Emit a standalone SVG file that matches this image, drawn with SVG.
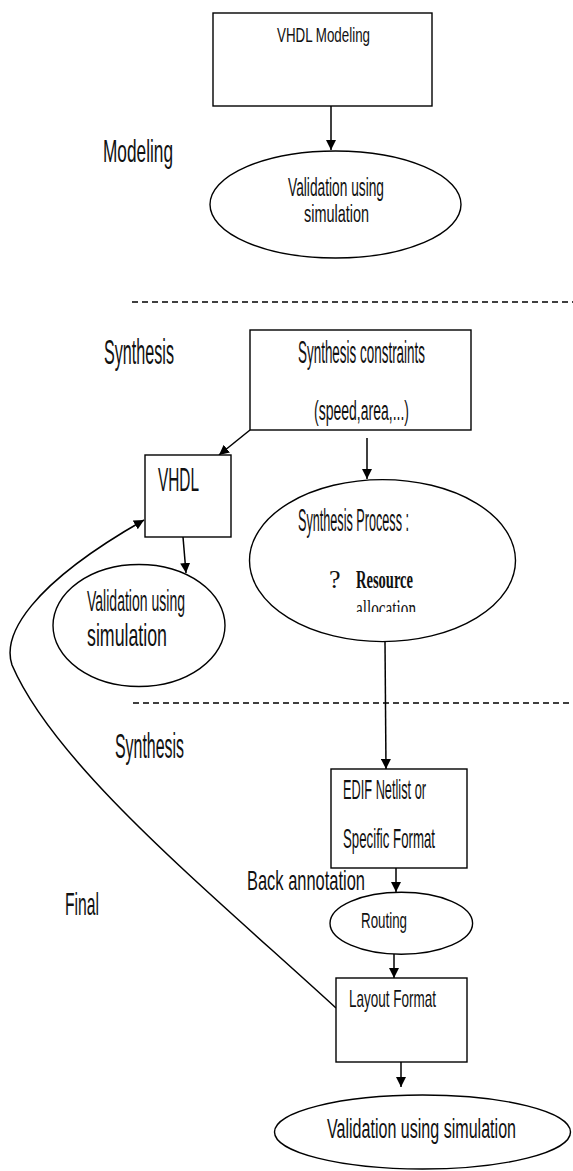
<svg xmlns="http://www.w3.org/2000/svg" width="573" height="1171" viewBox="0 0 573 1171">
<style>
.n{fill:#fff;stroke:#000;stroke-width:1.4}
.t{font-family:"Liberation Sans",Arial,sans-serif;fill:#111}
.s{font-family:"Liberation Serif","Times New Roman",serif;fill:#111}
.c{fill:none;stroke:#000;stroke-width:1.5}
.d{fill:none;stroke:#000;stroke-width:1.5;stroke-dasharray:6,4}
</style>
<defs>
<marker id="ah" viewBox="0 0 10 10" refX="10" refY="5" markerWidth="10" markerHeight="10" markerUnits="userSpaceOnUse" orient="auto">
<path d="M0,0 L10,5 L0,10 z" fill="#000"/>
</marker>
<clipPath id="clipAlloc"><rect x="340" y="590" width="100" height="22"/></clipPath>
</defs>
<g id="labels">
<text class="t" x="103" y="162" font-size="32" textLength="70" lengthAdjust="spacingAndGlyphs">Modeling</text>
<text class="t" x="104" y="364" font-size="35" textLength="70" lengthAdjust="spacingAndGlyphs">Synthesis</text>
<text class="t" x="115" y="758" font-size="35" textLength="69" lengthAdjust="spacingAndGlyphs">Synthesis</text>
<text class="t" x="65" y="915" font-size="32" textLength="34" lengthAdjust="spacingAndGlyphs">Final</text>
<text class="t" x="247" y="890" font-size="28" textLength="118" lengthAdjust="spacingAndGlyphs">Back annotation</text>
</g>
<g id="separators">
<line class="d" x1="132" y1="302" x2="573" y2="302"/>
<line class="d" x1="133" y1="703" x2="573" y2="703"/>
</g>
<g id="connectors">
<line class="c" x1="331" y1="106" x2="331" y2="150" marker-end="url(#ah)"/>
<line class="c" x1="250" y1="430" x2="219" y2="455" marker-end="url(#ah)"/>
<line class="c" x1="367" y1="438" x2="367" y2="479" marker-end="url(#ah)"/>
<line class="c" x1="183" y1="537" x2="186" y2="573" marker-end="url(#ah)"/>
<line class="c" x1="385" y1="642" x2="386" y2="769" marker-end="url(#ah)"/>
<line class="c" x1="396" y1="868" x2="396" y2="892" marker-end="url(#ah)"/>
<line class="c" x1="394" y1="954" x2="394" y2="978" marker-end="url(#ah)"/>
<line class="c" x1="401" y1="1062" x2="401" y2="1087" marker-end="url(#ah)"/>
<path class="c" stroke-width="2" d="M336,1008 C205,888 55,765 12,665 C2,635 30,585 144,520" marker-end="url(#ah)"/>
</g>
<g id="vhdl-modeling">
<rect class="n" x="213" y="13" width="219" height="93"/>
<text class="t" x="277" y="42" font-size="21" textLength="93" lengthAdjust="spacingAndGlyphs">VHDL Modeling</text>
</g>
<g id="validation-1">
<ellipse class="n" cx="335.5" cy="204.5" rx="125.5" ry="53.5"/>
<text class="t" x="288" y="196" font-size="26" textLength="96" lengthAdjust="spacingAndGlyphs">Validation using</text>
<text class="t" x="304" y="222" font-size="23" textLength="65" lengthAdjust="spacingAndGlyphs">simulation</text>
</g>
<g id="synthesis-constraints">
<rect class="n" x="250" y="330" width="221" height="100"/>
<text class="t" x="298" y="363" font-size="31" textLength="127" lengthAdjust="spacingAndGlyphs">Synthesis constraints</text>
<text class="t" x="314" y="420" font-size="27" textLength="95" lengthAdjust="spacingAndGlyphs">(speed,area,...)</text>
</g>
<g id="vhdl">
<rect class="n" x="145" y="455" width="86" height="82"/>
<text class="t" x="158" y="491" font-size="33" textLength="41" lengthAdjust="spacingAndGlyphs">VHDL</text>
</g>
<g id="validation-2">
<ellipse class="n" cx="139" cy="625.5" rx="86" ry="61"/>
<text class="t" x="87" y="611" font-size="29" textLength="98" lengthAdjust="spacingAndGlyphs">Validation using</text>
<text class="t" x="87" y="646" font-size="32" textLength="80" lengthAdjust="spacingAndGlyphs">simulation</text>
</g>
<g id="synthesis-process">
<ellipse class="n" cx="382.5" cy="560.6" rx="133" ry="81"/>
<text class="t" x="298" y="531" font-size="31" textLength="111" lengthAdjust="spacingAndGlyphs">Synthesis Process :</text>
<text class="s" x="329" y="588" font-size="26">?</text>
<text class="s" x="356" y="588" font-size="26" font-weight="bold" textLength="57" lengthAdjust="spacingAndGlyphs">Resource</text>
<text class="s" x="356" y="617" font-size="26" textLength="60" lengthAdjust="spacingAndGlyphs" clip-path="url(#clipAlloc)">allocation</text>
</g>
<g id="edif-netlist">
<rect class="n" x="331" y="769" width="136" height="99"/>
<text class="t" x="343" y="799" font-size="28" textLength="83" lengthAdjust="spacingAndGlyphs">EDIF Netlist or</text>
<text class="t" x="343" y="848" font-size="28" textLength="92" lengthAdjust="spacingAndGlyphs">Specific Format</text>
</g>
<g id="routing">
<ellipse class="n" cx="401.3" cy="923.3" rx="71.3" ry="31"/>
<text class="t" x="361" y="928" font-size="22" textLength="46" lengthAdjust="spacingAndGlyphs">Routing</text>
</g>
<g id="layout-format">
<rect class="n" x="336" y="978" width="131" height="84"/>
<text class="t" x="349" y="1007" font-size="24" textLength="87" lengthAdjust="spacingAndGlyphs">Layout Format</text>
</g>
<g id="validation-final">
<ellipse class="n" cx="422.5" cy="1132" rx="148" ry="37"/>
<text class="t" x="327" y="1138" font-size="27" textLength="189" lengthAdjust="spacingAndGlyphs">Validation using simulation</text>
</g>
</svg>
